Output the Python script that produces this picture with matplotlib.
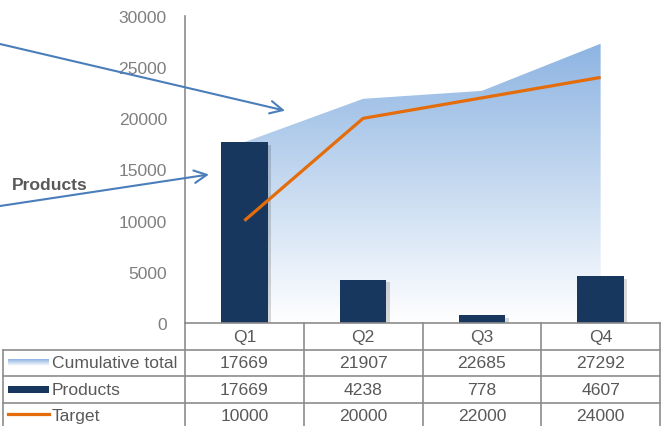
import numpy as np
import matplotlib.pyplot as plt
from matplotlib.colors import LinearSegmentedColormap
from matplotlib import patheffects as pe

plt.rcParams['font.family'] = ['Liberation Sans', 'DejaVu Sans']

quarters = ['Q1', 'Q2', 'Q3', 'Q4']
cumulative = [17669, 21907, 22685, 27292]
products = [17669, 4238, 778, 4607]
target = [10000, 20000, 22000, 24000]
series_names = ['Cumulative total', 'Products', 'Target']

W, H = 671, 427
navy = '#17375E'
orange = '#E46C0A'
light_blue = '#8DB4E2'
grid_col = '#8C8C8C'
text_col = '#595959'
fs = 12.6

fig = plt.figure(figsize=(W / 100, H / 100), dpi=100)

# main plot area
x0, x1, y_top, y_zero = 185, 660, 17, 324
ax = fig.add_axes([x0 / W, 1 - y_zero / H, (x1 - x0) / W, (y_zero - y_top) / H])
x = np.arange(len(quarters))

# gradient area for cumulative total
cmap = LinearSegmentedColormap.from_list('grad', ['#FFFFFF', light_blue])
poly = ax.fill_between(x, 0, cumulative, color='none', lw=0)
grad = np.linspace(0, 1, 256).reshape(-1, 1)
img = ax.imshow(grad, cmap=cmap, origin='lower', aspect='auto',
                extent=[x[0], x[-1], 0, max(cumulative)], zorder=1)
img.set_clip_path(poly.get_paths()[0], transform=ax.transData)
ax.set_xlim(-0.5, len(quarters) - 0.5)
ax.set_ylim(0, 30000)

# bars with soft shadow
ax.bar(x, products, width=0.39, color=navy, zorder=3,
       path_effects=[pe.SimplePatchShadow(offset=(2.5, -2), shadow_rgbFace='#000000', alpha=0.15),
                     pe.Normal()])

# target line
ax.plot(x, target, color=orange, lw=2.3, zorder=4, solid_capstyle='butt')

ax.set_yticks(np.arange(0, 30001, 5000))
ax.tick_params(axis='y', length=0, labelsize=fs, labelcolor='#7F7F7F', pad=13)
ax.set_xticks([])
for s in ['top', 'right', 'bottom']:
    ax.spines[s].set_visible(False)
ax.spines['left'].set_color(grid_col)
ax.spines['left'].set_linewidth(1.2)

# data table
tx0 = 3
cat_w = (x1 - x0) / len(quarters)
label_w = (x0 - tx0) / cat_w
tab = fig.add_axes([tx0 / W, 0, (x1 - tx0) / W, (H - y_zero) / H])
row_h = 26.5
n_vis = (H - y_zero) / row_h

lk = dict(color=grid_col, lw=1.2, clip_on=False)
# header
tab.plot([-0.5, len(quarters) - 0.5], [0, 0], **lk)
for i, q in enumerate(quarters):
    tab.text(i, 0.5, q, ha='center', va='center', fontsize=fs, color=text_col)
for r in range(1, 4):
    tab.plot([-0.5 - label_w, len(quarters) - 0.5], [r, r], **lk)
for xv in np.arange(-0.5, len(quarters), 1.0):
    tab.plot([xv, xv], [0, 4], **lk)
tab.plot([-0.5 - label_w] * 2, [1, 4], **lk)

rows = [cumulative, products, target]
kx0 = -0.5 - label_w + 5 / cat_w
kx1 = kx0 + 41 / cat_w
for r, (name, vals) in enumerate(zip(series_names, rows), start=1):
    yc = r + 0.5
    tab.text(kx1 + 3 / cat_w, yc, name, ha='left', va='center', fontsize=fs, color=text_col)
    for i, v in enumerate(vals):
        tab.text(i, yc, str(v), ha='center', va='center', fontsize=fs, color=text_col)

# legend keys
key_grad = np.linspace(1, 0, 32).reshape(-1, 1)
tab.imshow(key_grad, cmap=LinearSegmentedColormap.from_list('k', ['#FFFFFF', light_blue]),
           extent=[kx0, kx1, 1.62, 1.36], aspect='auto', vmin=0, vmax=1)
tab.fill_between([kx0, kx1], 2.36, 2.64, color=navy, lw=0)
tab.plot([kx0, kx1], [3.45, 3.45], color=orange, lw=2.3)
tab.set_xlim(-0.5 - label_w, len(quarters) - 0.5)
tab.set_ylim(n_vis, 0)
tab.axis('off')

# annotation arrows
arrow_col = '#4A7EBB'
ax.annotate('', xy=(0.342, 20750), xycoords='data',
            xytext=(0, 1 - 45 / H), textcoords='figure fraction',
            arrowprops=dict(arrowstyle='->,head_length=0.9,head_width=0.45',
                            color=arrow_col, lw=1.5, shrinkA=0, shrinkB=0),
            annotation_clip=False)
ax.annotate('', xy=(-0.298, 14513), xycoords='data',
            xytext=(0, 1 - 207 / H), textcoords='figure fraction',
            arrowprops=dict(arrowstyle='->,head_length=0.9,head_width=0.45',
                            color=arrow_col, lw=1.5, shrinkA=0, shrinkB=0),
            annotation_clip=False)
fig.text(12 / W, 1 - 186 / H, 'Products', fontsize=fs, fontweight='bold',
         color=text_col, ha='left', va='center')

fig.savefig('out.png', dpi=100)
